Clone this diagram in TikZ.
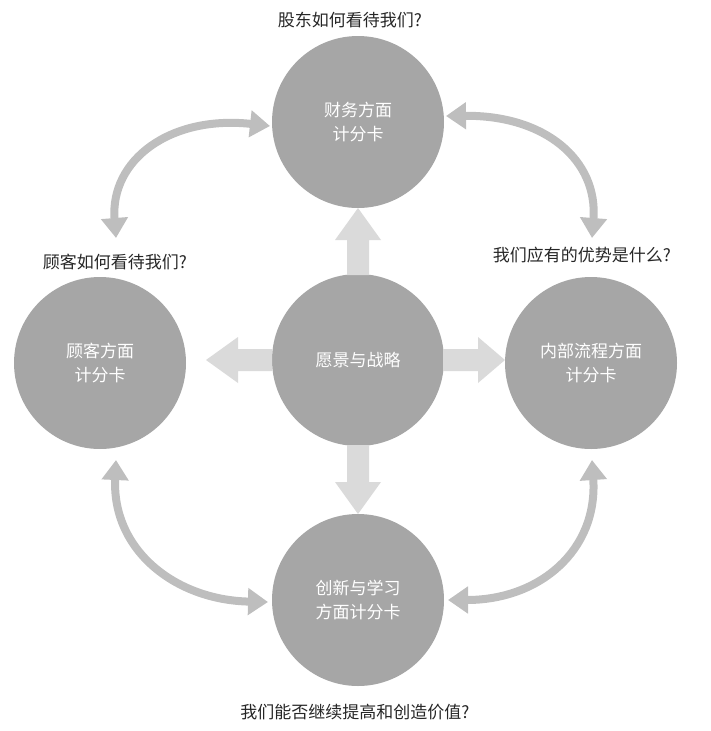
\documentclass[tikz,border=0pt]{standalone}
\usepackage{fontspec}
\newfontfamily\cjk{Noto Sans CJK SC}
\usetikzlibrary{arrows.meta}
\begin{document}
\begin{tikzpicture}[x=1pt,y=-1pt,
  circ/.style={circle,fill=cgray,minimum size=172pt,inner sep=0pt,text=white,font=\cjk\fontsize{17}{24}\selectfont,align=center},
  lbl/.style={font=\cjk\fontsize{17}{20}\selectfont,text=black!85},
  curv/.style={draw=agray,line width=8pt,{Triangle[length=20pt,width=26pt]}-{Triangle[length=20pt,width=26pt]}},
  blk/.style={fill=bgray,draw=none}]
\definecolor{cgray}{HTML}{A6A6A6}
\definecolor{agray}{HTML}{BEBEBE}
\definecolor{bgray}{HTML}{DADADA}
\useasboundingbox (0,0) rectangle (710,731);
\node[circ] (top) at (358,122) {财务方面\\计分卡};
\node[circ] (left) at (100,363) {顾客方面\\计分卡};
\node[circ] (right) at (591,363) {内部流程方面\\计分卡};
\node[circ] (mid) at (358,360) {愿景与战略};
\node[circ] (bot) at (358,600) {创新与学习\\方面计分卡};
% block arrows
\fill[blk] (347,275) -- (347,240) -- (335,240) -- (358,208) -- (381,240) -- (369,240) -- (369,275) -- cycle;
\fill[blk] (347,445) -- (347,482) -- (335,482) -- (358,514) -- (381,482) -- (369,482) -- (369,445) -- cycle;
\fill[blk] (272,349) -- (238,349) -- (238,337) -- (206,360) -- (238,383) -- (238,371) -- (272,371) -- cycle;
\fill[blk] (443,349) -- (478,349) -- (478,337) -- (505,360) -- (478,383) -- (478,371) -- (443,371) -- cycle;
% curved arrows
\draw[curv] (270,126) .. controls (170,115) and (110,160) .. (116,238);
\draw[curv] (446,116) .. controls (545,115) and (598,160) .. (592,238);
\draw[curv] (116,460) .. controls (112,550) and (175,600) .. (268,602);
\draw[curv] (592,460) .. controls (598,550) and (540,600) .. (448,600);
% labels
\node[lbl] (l1) at (350,20) {股东如何看待我们?};
\node[lbl] (l2) at (115,262) {顾客如何看待我们?};
\node[lbl] (l3) at (582,255) {我们应有的优势是什么?};
\node[lbl] (l4) at (355,712) {我们能否继续提高和创造价值?};
\end{tikzpicture}
\end{document}
